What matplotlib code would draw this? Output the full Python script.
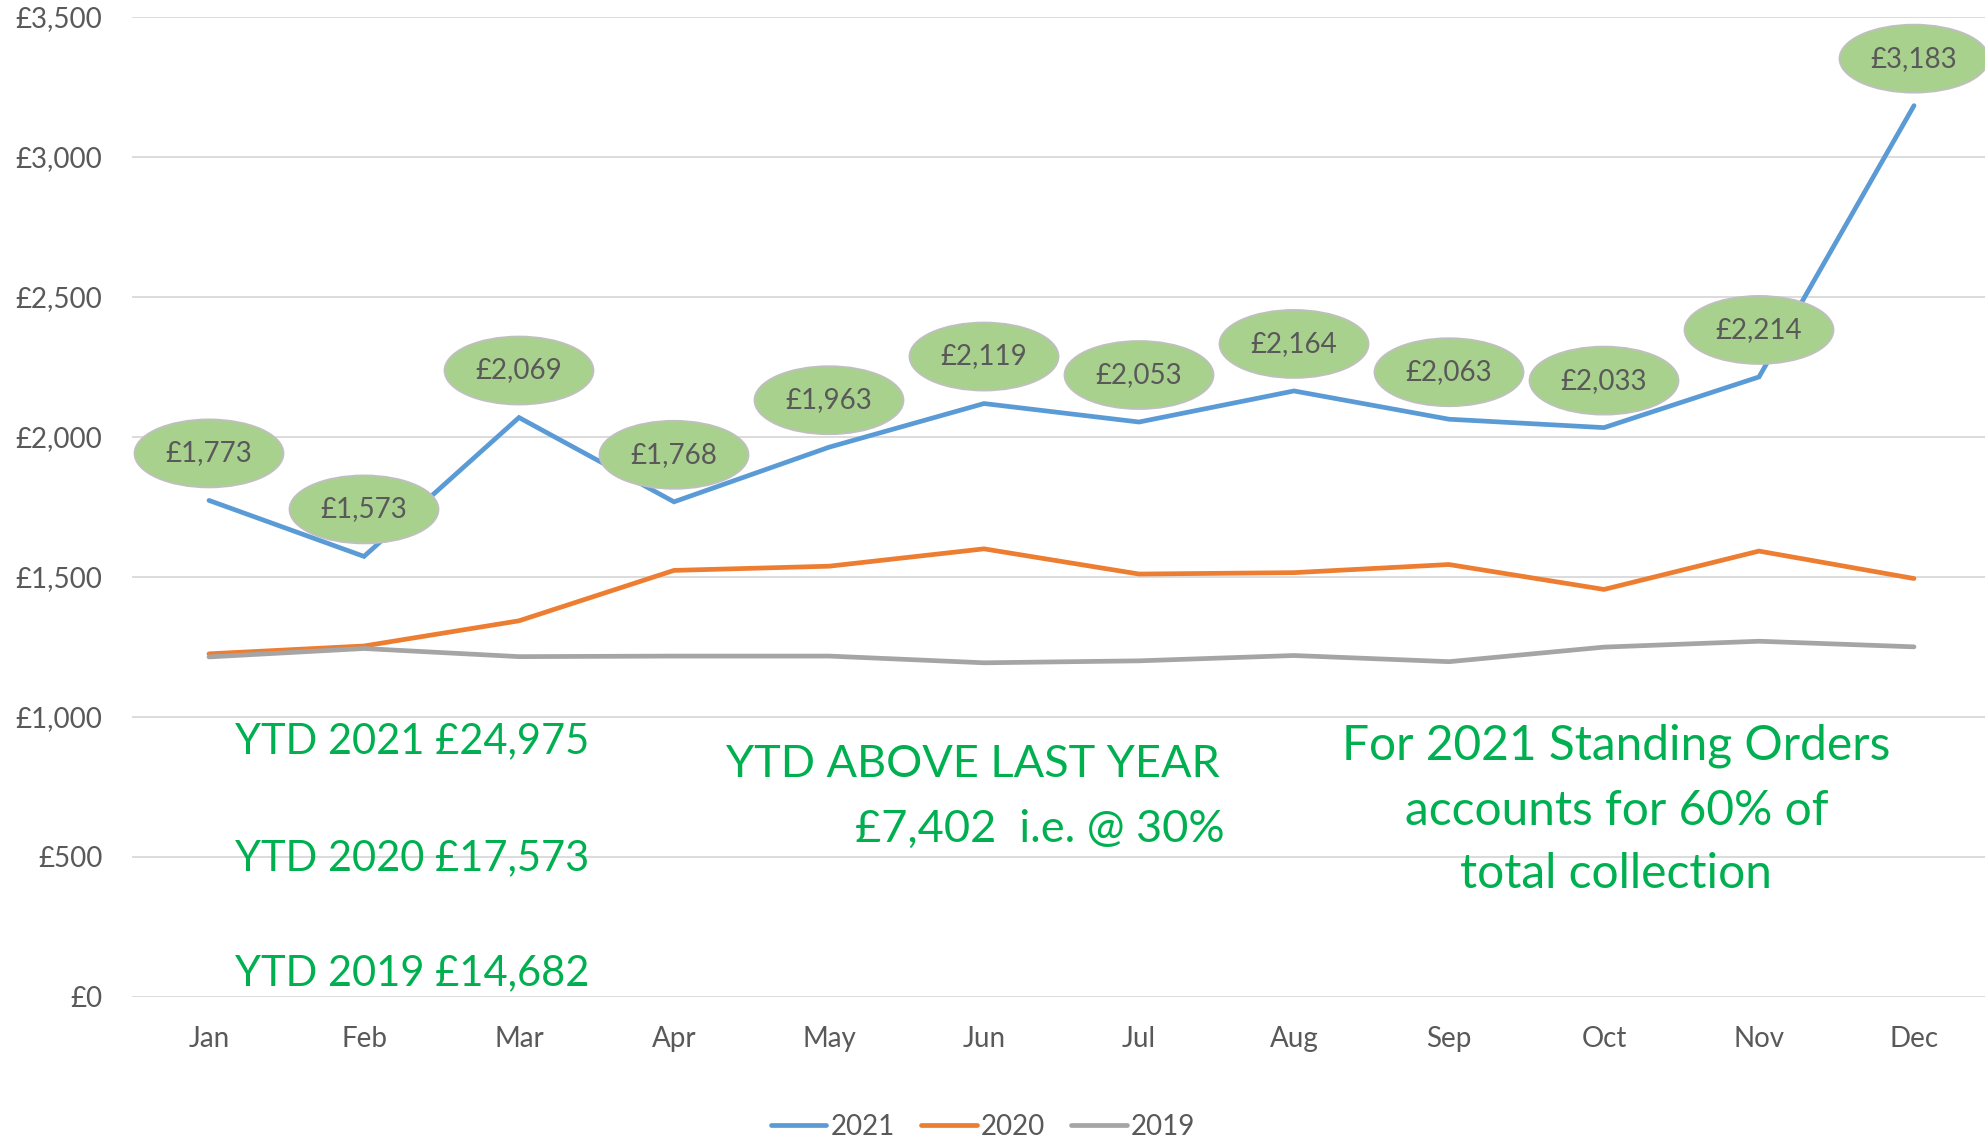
import matplotlib
matplotlib.use("Agg")
import matplotlib.pyplot as plt
from matplotlib.patches import Ellipse
from matplotlib.transforms import ScaledTranslation
from matplotlib.ticker import FuncFormatter, MultipleLocator

plt.rcParams['font.family'] = ['Lato', 'DejaVu Sans']

months = ["Jan", "Feb", "Mar", "Apr", "May", "Jun", "Jul", "Aug", "Sep", "Oct", "Nov", "Dec"]
s2021 = [1773, 1573, 2069, 1768, 1963, 2119, 2053, 2164, 2063, 2033, 2214, 3183]
s2020 = [1225, 1253, 1343, 1523, 1538, 1600, 1510, 1515, 1544, 1455, 1592, 1494]
s2019 = [1214, 1244, 1215, 1217, 1217, 1193, 1200, 1219, 1197, 1249, 1270, 1250]
series_names = ["2021", "2020", "2019"]
colors = ["#5B9BD5", "#ED7D31", "#A5A5A5"]

ytd_lines = ["YTD 2021 £24,975", "YTD 2020 £17,573", "YTD 2019 £14,682"]
above_lines = ["YTD ABOVE LAST YEAR", "£7,402  i.e. @ 30%"]
so_lines = ["For 2021 Standing Orders", "accounts for 60% of", "total collection"]

W, H = 1985, 1142
fig = plt.figure(figsize=(W / 100, H / 100), dpi=100)
left_px, right_px = 131.5, 1991.5
top_px, bot_px = 16.9, 996.8
ax = fig.add_axes([left_px / W, 1 - bot_px / H, (right_px - left_px) / W, (bot_px - top_px) / H])

x = list(range(len(months)))
lw = 3.4
for vals, name, c in zip([s2021, s2020, s2019], series_names, colors):
    ax.plot(x, vals, color=c, lw=lw, label=name, solid_capstyle='round',
            solid_joinstyle='miter', zorder=3)

ax.set_xlim(-0.5, 11.5)
ax.set_ylim(0, 3500)
ax.yaxis.set_major_locator(MultipleLocator(500))
ax.yaxis.set_major_formatter(FuncFormatter(lambda v, p: f"£{v:,.0f}"))
ax.set_xticks(x)
ax.set_xticklabels(months)
ax.grid(axis='y', color='#D9D9D9', lw=1.3, zorder=0)
ax.set_axisbelow(True)
for sp in ax.spines.values():
    sp.set_visible(False)
ax.tick_params(axis='both', length=0, labelsize=20, labelcolor='#595959')
ax.tick_params(axis='y', pad=21)
ax.tick_params(axis='x', pad=21)

# data label bubbles
off_px = 47
for xi, v in zip(x, s2021):
    tr = fig.dpi_scale_trans + ScaledTranslation(xi, v, ax.transData)
    e = Ellipse((0, off_px / 100), 1.49, 0.68, transform=tr, facecolor='#A9D18E',
                edgecolor='#BFBFBF', lw=1.3, zorder=5, clip_on=False)
    ax.add_patch(e)
    ax.annotate(f"£{v:,}", (xi, v), xytext=(0, off_px * 0.72), textcoords='offset points',
                ha='center', va='center', fontsize=20, color='#595959', zorder=6)

green = '#00B050'
for txt, yv in zip(ytd_lines, [871, 453, 42]):
    ax.text(0.168, yv, txt, ha='left', va='baseline', fontsize=30, color=green, zorder=7)
for txt, xv, yv in zip(above_lines, [6.52, 6.55], [784, 554]):
    ax.text(xv, yv, txt, ha='right', va='baseline', fontsize=32.5, color=green, zorder=7)
for txt, yv in zip(so_lines, [846, 614, 389]):
    ax.text(9.08, yv, txt, ha='center', va='baseline', fontsize=34.5, color=green, zorder=7)

leg = fig.legend(loc='center', bbox_to_anchor=(983 / W, 1 - 1127 / H), ncol=3, frameon=False,
                 fontsize=20, handlelength=2.0, handletextpad=0.15, columnspacing=0.95,
                 labelcolor='#595959')
for h in leg.get_lines():
    h.set_linewidth(lw)
    h.set_solid_capstyle('round')

fig.savefig("out.png", dpi=100)
